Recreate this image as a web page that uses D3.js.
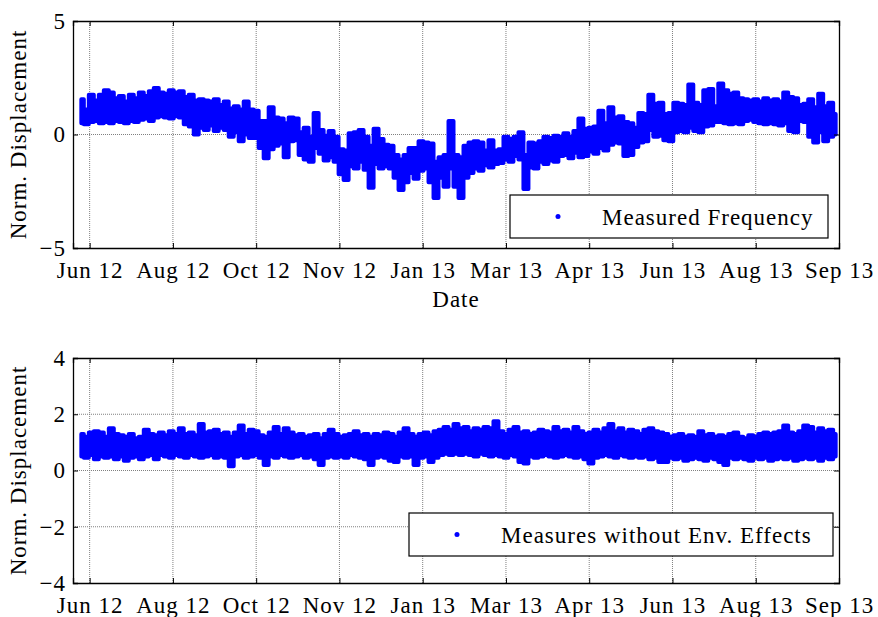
<!DOCTYPE html>
<html>
<head>
<meta charset="utf-8">
<script src="https://cdnjs.cloudflare.com/ajax/libs/d3/7.8.5/d3.min.js"></script>
<style>
body { margin: 0; background: #fff; }
text { font-family: "Liberation Serif", "Times New Roman", serif; font-size: 23px; letter-spacing: 1px; fill: #000; }
</style>
</head>
<body>
<div id="chart"></div>
<script>
// tick labels of the date axis (ticks are evenly spaced, 50 days apart)
var dateLabels = ["Jun 12", "Aug 12", "Oct 12", "Nov 12", "Jan 13", "Mar 13", "Apr 13", "Jun 13", "Aug 13", "Sep 13"];
var tickDays = [0, 50, 100, 150, 200, 250, 300, 350, 400, 450];

// samples every 3 days, starting 5 days before the first tick
var firstDay = -5, dayStep = 3;

// measured frequency: upper / lower edge of the scatter band
var freqHigh = [1.55,1.1,1.75,1.5,1.75,1.95,1.85,1.6,1.7,1.45,1.75,1.6,1.85,1.7,1.9,2.05,1.85,1.8,1.95,1.85,
  1.9,1.65,1.75,1.5,1.55,1.5,1.45,1.55,1.3,1.45,1.15,1.25,1.1,1.45,1.1,1.05,0.6,0.6,1.2,0.75,
  0.7,0.5,0.75,0.7,0.1,0.3,-0.1,0.95,0.2,-0.05,0.15,-0.1,-0.65,-0.7,0.05,0.1,0.2,-0.1,-0.5,0.25,
  -0.2,-0.45,-0.5,-0.9,-1.1,-0.9,-0.6,-0.6,-0.3,-0.35,-0.4,-1.2,-1.0,-0.9,0.6,-0.9,-1.0,-0.5,-0.35,-0.3,
  -0.35,-0.7,-0.25,-0.7,-0.65,-0.1,-0.2,-0.1,0.1,-0.9,-0.35,-0.4,-0.3,-0.1,-0.15,-0.05,-0.1,0.05,-0.1,0.15,
  0.7,0.25,0.3,0.35,1.05,0.5,1.2,0.75,0.8,0.55,0.5,0.3,0.95,0.9,1.75,1.35,1.4,0.9,0.95,1.4,
  1.35,1.3,2.2,1.4,1.3,1.95,2.0,1.25,2.25,1.95,1.8,1.85,1.6,1.55,1.5,1.55,1.45,1.6,1.5,1.55,
  1.45,1.85,1.65,1.6,1.3,1.35,1.55,1.2,1.8,1.25,1.4,0.9];
var freqLow = [0.5,0.45,0.55,0.6,0.5,0.55,0.5,0.6,0.55,0.5,0.6,0.55,0.65,0.7,0.6,0.75,0.8,0.75,0.7,0.8,
  0.75,0.45,0.35,0.0,0.3,0.2,0.4,0.15,0.3,0.2,-0.1,0.1,-0.3,0.0,-0.15,-0.15,-0.6,-1.05,-0.65,-0.5,
  -0.4,-1.0,-0.3,-0.25,-0.9,-1.1,-1.2,-0.6,-0.85,-1.15,-1.0,-1.2,-1.75,-2.0,-1.4,-1.5,-1.2,-1.55,-2.35,-1.3,
  -1.5,-1.4,-1.5,-1.9,-2.45,-2.1,-1.7,-1.95,-1.6,-1.5,-2.1,-2.8,-1.9,-2.3,-1.5,-2.3,-2.8,-1.9,-1.7,-1.5,
  -1.6,-1.35,-1.45,-1.3,-1.25,-1.1,-1.2,-0.95,-1.1,-2.4,-1.45,-1.5,-1.2,-1.3,-1.15,-1.2,-0.95,-0.9,-1.05,-0.8,
  -1.0,-0.95,-0.75,-0.85,-0.6,-0.7,-0.45,-0.35,-0.4,-0.95,-0.9,-0.55,-0.35,-0.3,0.2,-0.1,-0.05,-0.25,-0.3,0.1,
  0.15,0.1,0.3,0.15,0.1,0.35,0.4,0.55,0.55,0.5,0.45,0.5,0.45,0.6,0.65,0.55,0.5,0.45,0.5,0.45,
  0.4,0.5,0.15,0.1,0.6,0.55,-0.1,-0.35,0.1,-0.3,-0.1,0.0];

// measures without environmental effects: upper / lower edge of the band
var envHigh = [1.3,1.2,1.35,1.4,1.35,1.2,1.5,1.3,1.25,1.2,1.3,1.15,1.2,1.45,1.3,1.25,1.35,1.25,1.4,1.3,
  1.5,1.3,1.35,1.25,1.65,1.35,1.4,1.45,1.3,1.35,1.2,1.35,1.6,1.3,1.45,1.4,1.25,1.2,1.35,1.55,
  1.3,1.5,1.35,1.25,1.3,1.2,1.25,1.3,1.15,1.3,1.45,1.3,1.2,1.25,1.3,1.4,1.25,1.3,1.2,1.3,
  1.25,1.35,1.3,1.2,1.35,1.5,1.3,1.2,1.3,1.35,1.25,1.4,1.45,1.55,1.45,1.65,1.5,1.55,1.4,1.5,
  1.45,1.55,1.5,1.75,1.4,1.3,1.45,1.55,1.35,1.4,1.3,1.35,1.45,1.4,1.35,1.55,1.4,1.45,1.35,1.55,
  1.4,1.3,1.35,1.45,1.35,1.5,1.65,1.4,1.5,1.35,1.45,1.4,1.3,1.45,1.5,1.4,1.35,1.3,1.2,1.25,
  1.3,1.2,1.25,1.2,1.4,1.25,1.3,1.2,1.25,1.2,1.3,1.35,1.2,1.15,1.25,1.2,1.3,1.35,1.3,1.35,
  1.4,1.6,1.35,1.3,1.4,1.6,1.55,1.35,1.5,1.4,1.45,1.3];
var envLow = [0.5,0.45,0.55,0.4,0.5,0.45,0.5,0.4,0.5,0.35,0.45,0.5,0.4,0.5,0.55,0.4,0.55,0.5,0.45,0.55,
  0.5,0.45,0.55,0.5,0.45,0.5,0.55,0.45,0.5,0.45,0.15,0.5,0.55,0.45,0.5,0.55,0.45,0.2,0.5,0.45,
  0.55,0.5,0.45,0.5,0.55,0.45,0.5,0.4,0.2,0.45,0.5,0.45,0.5,0.45,0.55,0.5,0.45,0.4,0.2,0.45,
  0.5,0.45,0.35,0.3,0.5,0.45,0.5,0.2,0.45,0.5,0.3,0.45,0.55,0.6,0.55,0.6,0.55,0.6,0.55,0.5,
  0.6,0.55,0.5,0.55,0.5,0.45,0.55,0.5,0.3,0.25,0.5,0.45,0.5,0.55,0.5,0.45,0.5,0.55,0.5,0.45,
  0.5,0.4,0.25,0.45,0.5,0.55,0.5,0.45,0.55,0.5,0.45,0.5,0.45,0.5,0.4,0.45,0.3,0.3,0.45,0.4,
  0.45,0.35,0.4,0.45,0.4,0.35,0.45,0.4,0.3,0.2,0.45,0.4,0.45,0.4,0.35,0.45,0.4,0.45,0.35,0.4,
  0.45,0.4,0.45,0.35,0.4,0.45,0.4,0.45,0.35,0.45,0.4,0.5];

var width = 878, height = 617;

var svg = d3.select("#chart")
  .append("svg")
    .attr("width", width)
    .attr("height", height);

var x = d3.scaleLinear()
  .domain([-10, 450])
  .range([73, 839]);

function drawPanel(p) {
  var y = d3.scaleLinear().domain(p.yDomain).range([p.bottom, p.top]);
  var g = svg.append("g");
  var clipId = "clip" + p.top;

  g.append("clipPath").attr("id", clipId)
    .append("rect")
      .attr("x", x.range()[0]).attr("y", p.top)
      .attr("width", x.range()[1] - x.range()[0])
      .attr("height", p.bottom - p.top);

  // grid
  g.selectAll(".vgrid")
    .data(tickDays.slice(0, -1))
    .enter().append("line")
      .attr("x1", function(d) { return x(d); })
      .attr("x2", function(d) { return x(d); })
      .attr("y1", p.top).attr("y2", p.bottom)
      .attr("stroke", "#808080").attr("stroke-dasharray", "1,1");
  g.selectAll(".hgrid")
    .data(p.grid)
    .enter().append("line")
      .attr("x1", x.range()[0]).attr("x2", x.range()[1])
      .attr("y1", function(d) { return y(d); })
      .attr("y2", function(d) { return y(d); })
      .attr("stroke", "#808080").attr("stroke-dasharray", "1,1");

  // data band
  var area = d3.area()
    .x(function(i) { return x(firstDay + i * dayStep); })
    .y0(function(i) { return y(p.low[i]); })
    .y1(function(i) { return y(p.high[i]); })
    .curve(d3.curveStep);

  g.append("path")
    .datum(d3.range(p.high.length))
    .attr("clip-path", "url(#" + clipId + ")")
    .attr("d", area)
    .attr("fill", "#0000ff")
    .attr("stroke", "#0000ff")
    .attr("stroke-width", 4)
    .attr("stroke-linejoin", "round");

  // axes (ticks pointing inward, like matlab)
  g.append("g")
    .attr("transform", "translate(0," + p.bottom + ")")
    .call(d3.axisBottom(x).tickValues(tickDays).tickSize(-5).tickPadding(14)
      .tickFormat(function(d, i) { return dateLabels[i]; }));
  g.append("g")
    .attr("transform", "translate(0," + p.top + ")")
    .call(d3.axisTop(x).tickValues(tickDays).tickSize(-5).tickFormat(""));
  g.append("g")
    .attr("transform", "translate(" + x.range()[0] + ",0)")
    .call(d3.axisLeft(y).tickValues(p.yTicks).tickSize(-5).tickPadding(7));
  g.append("g")
    .attr("transform", "translate(" + x.range()[1] + ",0)")
    .call(d3.axisRight(y).tickValues(p.yTicks).tickSize(-5).tickFormat(""));

  g.selectAll(".domain").attr("stroke", "#000").attr("stroke-width", 1.3);
  g.selectAll(".tick line").attr("stroke", "#000");
  g.selectAll(".tick text").attr("font-size", null).attr("font-family", null);

  // y label
  g.append("text")
    .attr("transform", "translate(26," + ((p.top + p.bottom) / 2) + ") rotate(-90)")
    .attr("text-anchor", "middle")
    .text("Norm. Displacement");

  if (p.xLabel) {
    g.append("text")
      .attr("x", (x.range()[0] + x.range()[1]) / 2)
      .attr("y", p.bottom + 59)
      .attr("text-anchor", "middle")
      .text(p.xLabel);
  }

  // legend
  var lg = g.append("g").attr("transform", "translate(" + p.legend[0] + "," + p.legend[1] + ")");
  lg.append("rect")
    .attr("width", p.legend[2]).attr("height", 43)
    .attr("fill", "#fff").attr("stroke", "#000").attr("stroke-width", 1.2);
  lg.append("circle")
    .attr("cx", 48).attr("cy", 21.5).attr("r", 2.5)
    .attr("fill", "#0000ff");
  lg.append("text")
    .attr("x", 92).attr("y", 30)
    .text(p.legendText);
}

drawPanel({
  top: 21, bottom: 248,
  yDomain: [-5, 5], yTicks: [-5, 0, 5], grid: [0],
  high: freqHigh, low: freqLow,
  xLabel: "Date",
  legend: [510, 195, 318],
  legendText: "Measured Frequency"
});

drawPanel({
  top: 358, bottom: 583,
  yDomain: [-4, 4], yTicks: [-4, -2, 0, 2, 4], grid: [-2, 0, 2],
  high: envHigh, low: envLow,
  xLabel: null,
  legend: [409, 513, 424],
  legendText: "Measures without Env. Effects"
});
</script>
</body>
</html>
